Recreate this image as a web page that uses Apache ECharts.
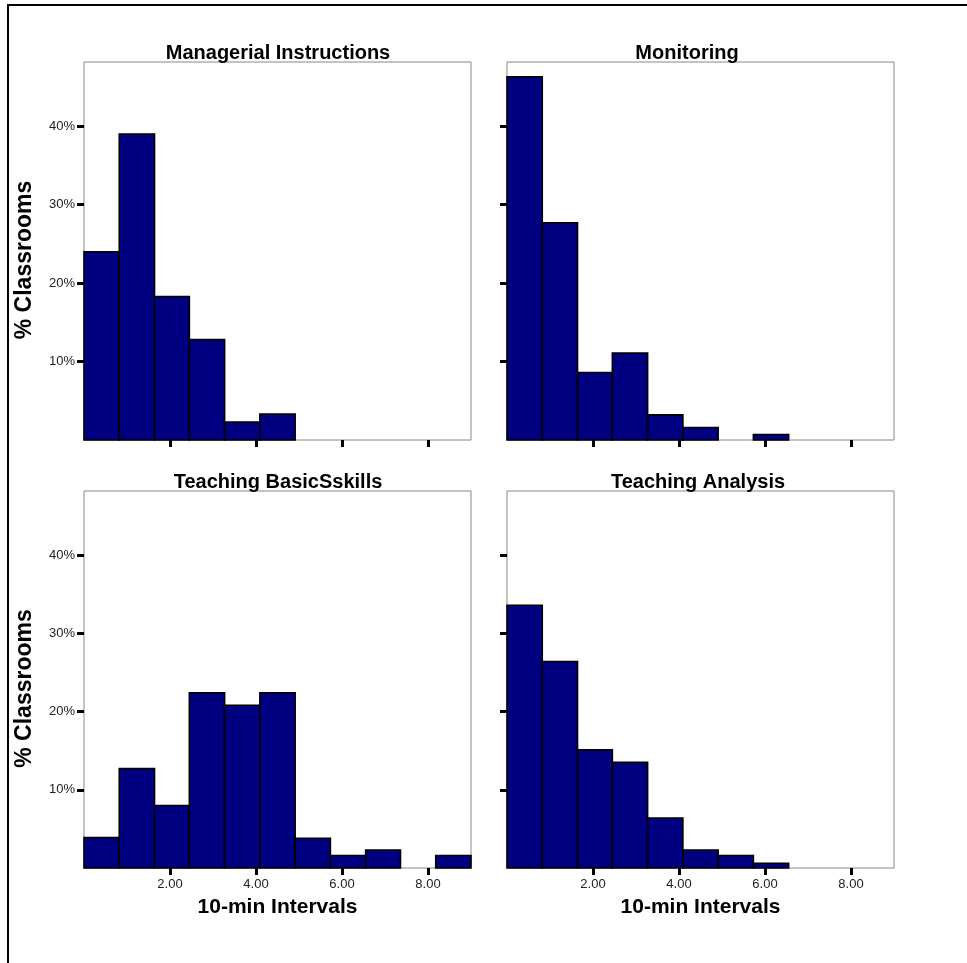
<!DOCTYPE html>
<html>
<head>
<meta charset="utf-8">
<script src="https://cdn.jsdelivr.net/npm/echarts@6/dist/echarts.min.js"></script>
<style>
html,body{margin:0;padding:0;background:#fff;}
#chart{width:967px;height:963px;}
</style>
</head>
<body>
<div id="chart"></div>
<script>
// Histogram bin edges (10-min intervals), 11 bins
const binEdges = [0, 0.82, 1.64, 2.45, 3.27, 4.09, 4.91, 5.73, 6.55, 7.36, 8.18, 9.0];
// Percent of classrooms per bin
const managerial = [24.0, 39.0, 18.3, 12.8, 2.3, 3.3, 0, 0, 0, 0, 0];
const monitoring = [46.3, 27.7, 8.6, 11.1, 3.2, 1.6, 0, 0.7, 0, 0, 0];
const basicSkills = [3.9, 12.7, 8.0, 22.4, 20.8, 22.4, 3.8, 1.6, 2.3, 0, 1.6];
const analysis = [33.6, 26.4, 15.1, 13.5, 6.4, 2.3, 1.6, 0.6, 0, 0, 0];
const panelTitles = ['Managerial Instructions', 'Monitoring', 'Teaching BasicSskills', 'Teaching Analysis'];
const xTicks = [2, 4, 6, 8];
const yTicks = [10, 20, 30, 40];
const yTitle = '% Classrooms';
const xTitle = '10-min Intervals';

const seriesValues = [managerial, monitoring, basicSkills, analysis];
const FONT = 'Liberation Sans, Arial, Helvetica, sans-serif';

const grids = [
  {left: 84, top: 62, width: 387, height: 378},
  {left: 507, top: 62, width: 387, height: 378},
  {left: 84, top: 491, width: 387, height: 377},
  {left: 507, top: 491, width: 387, height: 377}
];

const titleCenters = [[273, 38], [682, 38], [273, 467], [693, 467]];

const xAxes = [], yAxes = [], series = [], titles = [];
for (let i = 0; i < 4; i++) {
  const isLeft = (i % 2 === 0);
  const isBottom = (i >= 2);
  xAxes.push({
    gridIndex: i, type: 'value', min: 0, max: 9, interval: 2,
    axisLine: {show: false},
    splitLine: {show: false},
    axisTick: {show: true, customValues: xTicks, length: 7, inside: false,
      lineStyle: {color: '#000', width: 3}},
    axisLabel: {show: isBottom, customValues: xTicks, margin: 10,
      formatter: v => v.toFixed(2), color: '#222', fontSize: 13, fontFamily: FONT},
    name: isBottom ? xTitle : '',
    nameLocation: 'middle', nameGap: 29,
    nameTextStyle: {fontSize: 21, fontWeight: 'bold', color: '#000', fontFamily: FONT}
  });
  yAxes.push({
    gridIndex: i, type: 'value', min: 0, max: 48.2, interval: 10,
    axisLine: {show: false},
    splitLine: {show: false},
    axisTick: {show: true, customValues: yTicks, length: 7,
      lineStyle: {color: '#000', width: 3}},
    axisLabel: {show: isLeft, customValues: yTicks, margin: 9,
      formatter: v => v + '%', color: '#222', fontSize: 13, fontFamily: FONT},
    name: isLeft ? yTitle : '',
    nameLocation: 'middle', nameGap: 48, nameRotate: 90,
    nameTextStyle: {fontSize: 23, fontWeight: 'bold', color: '#000', fontFamily: FONT,
      padding: [0, 18, 0, 0]}
  });
  const vals = seriesValues[i];
  const data = vals.map((v, k) => [binEdges[k], binEdges[k + 1], v]);
  series.push({
    type: 'custom', xAxisIndex: i, yAxisIndex: i,
    data: data,
    renderItem: function (params, api) {
      const x0 = api.value(0), x1 = api.value(1), y = api.value(2);
      if (!(y > 0)) return null;
      const p0 = api.coord([x0, 0]);
      const p1 = api.coord([x1, y]);
      return {
        type: 'rect',
        shape: {x: p0[0], y: p1[1], width: p1[0] - p0[0], height: p0[1] - p1[1]},
        style: {fill: '#000080', stroke: '#000', lineWidth: 1.6}
      };
    },
    encode: {x: [0, 1], y: 2}
  });
  titles.push({
    text: panelTitles[i], left: titleCenters[i][0], top: titleCenters[i][1], textAlign: 'center',
    textStyle: {fontSize: 20, fontWeight: 'bold', color: '#000', fontFamily: FONT}
  });
}

const chart = echarts.init(document.getElementById('chart'), null, {renderer: 'canvas'});
chart.setOption({
  backgroundColor: '#fff',
  animation: false,
  title: titles,
  grid: grids.map(g => Object.assign({show: true, borderColor: '#888', borderWidth: 1, backgroundColor: 'transparent'}, g)),
  xAxis: xAxes,
  yAxis: yAxes,
  series: series,
  graphic: [{
    type: 'polyline', silent: true,
    shape: {points: [[8, 963], [8, 5], [967, 5]]},
    style: {stroke: '#000', lineWidth: 2, fill: null}
  }]
});
</script>
</body>
</html>
